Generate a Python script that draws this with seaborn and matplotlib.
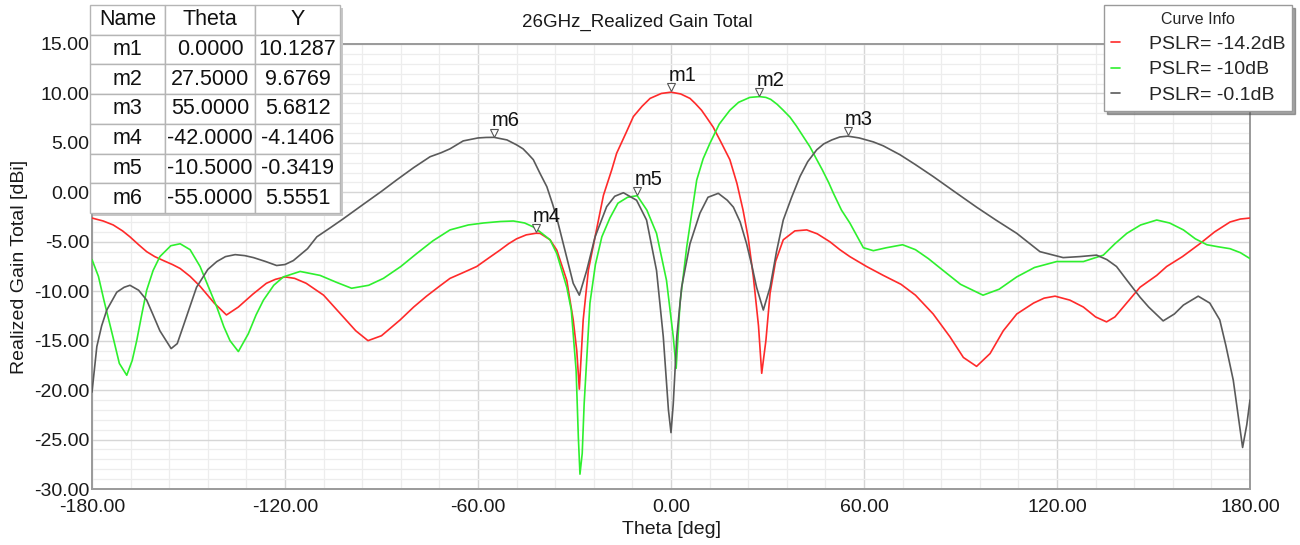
import numpy as np
import pandas as pd
import matplotlib
matplotlib.use("Agg")
import matplotlib.pyplot as plt
import matplotlib.transforms as mtrans
from matplotlib.lines import Line2D
import seaborn as sns

# ---------------- data ----------------
series_names = ["PSLR= -14.2dB", "PSLR= -10dB", "PSLR= -0.1dB"]

red_theta = [-180, -176.5, -173.4, -170.5, -168.2, -165.5, -163, -160.5, -157.8, -155, -152.6, -149.5, -146.4,
             -142, -138.2, -134.5, -130, -125.8, -123, -120, -117, -113.4, -108, -103, -98, -94.2, -90,
             -84.2, -80, -76, -72, -68.7, -64.5, -60.4, -56.5, -53.2, -50.5, -48.0, -45, -42.0,
             -40.7, -37.6, -35.5, -32.4, -30.4, -29.3, -28.5, -27.3, -25.7, -23.6, -21.0, -18.4, -16.9,
             -14, -11.7, -9, -6.5, -3, 0, 3, 5.9, 7.5, 9.5, 11, 13.1, 15.5, 18.3, 20.5, 22.4, 24, 25.6, 27.2,
             28.2, 29.5, 30.8, 32.5, 34.9, 38.5, 42.2, 45.5, 49.4, 52.5, 55.6, 60.8, 66, 71.5, 76, 81.5,
             86.7, 90.9, 95.0, 99.2, 103.3, 107.5, 112.7, 116, 119.4, 124, 128.2, 132, 135.4, 138, 140.6,
             145.8, 151, 154.1, 159, 164.4, 169, 173.8, 177, 180]
red_gain = [-2.6, -2.9, -3.3, -3.9, -4.5, -5.3, -6.0, -6.5, -6.9, -7.3, -7.7, -8.5, -9.5,
            -11.2, -12.4, -11.6, -10.3, -9.2, -8.8, -8.55, -8.7, -9.2, -10.4, -12.2, -14.0, -15.0, -14.5,
            -12.9, -11.6, -10.5, -9.5, -8.7, -8.1, -7.5, -6.6, -5.85, -5.2, -4.7, -4.3, -4.14,
            -4.15, -4.8, -5.85, -8.9, -12.9, -16.0, -19.9, -12.9, -7.9, -4.5, -0.3, 2.3, 3.95,
            6.0, 7.66, 8.7, 9.5, 10.0, 10.13, 9.95, 9.5, 9.0, 8.3, 7.6, 6.6, 5.1, 3.3, 0.9, -1.8, -4.6, -8.55, -13.5,
            -18.3, -15.0, -10.2, -7.0, -4.8, -3.9, -3.8, -4.2, -5.0, -5.8, -6.5, -7.5, -8.4, -9.3, -10.4, -12.3,
            -14.6, -16.7, -17.6, -16.3, -14.0, -12.3, -11.2, -10.7, -10.5, -10.9, -11.6, -12.6, -13.1, -12.6, -11.6,
            -9.6, -8.4, -7.5, -6.5, -5.2, -4.0, -3.0, -2.7, -2.6]

green_theta = [-180, -178, -176.3, -173.2, -171.5, -169.2, -167.5, -166.1, -164.5, -163, -161, -158.9, -155.5,
               -152.6, -149.5, -146.4, -144, -141.2, -139, -137.1, -134.5, -131.4, -129, -126.7, -123.5,
               -120.5, -115.3, -109.1, -104, -99.3, -94, -89.4, -84, -79.1, -74, -68.7, -63, -58.3, -53,
               -49.0, -45.5, -42.8, -40.7, -37.6, -35.5, -32.4, -31.0, -29.5, -28.8, -28.3, -27.6, -27.0,
               -25.2, -23.5, -21.5, -19, -16.5, -13.5, -10.5, -7.5, -4.5, -1.4, 0.7, 1.6, 2.8, 4.9, 8.0,
               10, 12.1, 15, 18.3, 21, 24.5, 27.5, 29.5, 31, 33, 34.9, 37, 39, 41, 43.2, 45, 47, 49, 50.5,
               53, 55.6, 59.8, 62.9, 67, 72.0, 76, 80, 84.6, 90, 97.0, 102, 107.5, 113, 119.9, 128.2,
               134.4, 138, 141.7, 146, 151.0, 155, 159.3, 163, 166.6, 170, 173.8, 177, 180]
green_gain = [-6.8, -8.5, -10.9, -15.0, -17.3, -18.5, -17.0, -15.0, -12.3, -9.9, -7.9, -6.5, -5.4,
              -5.2, -5.8, -7.5, -9.4, -11.6, -13.6, -15.0, -16.1, -14.3, -12.4, -10.9, -9.4,
              -8.55, -8.0, -8.4, -9.1, -9.7, -9.4, -8.7, -7.5, -6.2, -4.9, -3.8, -3.3, -3.1, -2.95,
              -2.9, -3.1, -3.5, -4.0, -4.8, -6.2, -9.6, -11.9, -18.0, -24.8, -28.5, -26.4, -21.4,
              -11.2, -7.3, -4.5, -2.6, -1.1, -0.5, -0.34, -1.8, -4.15, -8.9, -14.6, -17.8, -11.2, -5.5, 1.25,
              3.4, 4.96, 6.9, 8.3, 9.1, 9.6, 9.68, 9.6, 9.4, 8.9, 8.3, 7.6, 6.7, 5.7, 4.6, 3.5, 2.3, 1.0, -0.1,
              -1.8, -3.1, -5.6, -5.9, -5.6, -5.3, -5.8, -6.7, -7.9, -9.3, -10.4, -9.8, -8.55, -7.6, -7.0, -7.0,
              -6.35, -5.2, -4.15, -3.3, -2.8, -3.1, -3.8, -4.7, -5.3, -5.5, -5.7, -6.1, -6.7]

gray_theta = [-180, -178.5, -177, -175.4, -172.3, -170, -168.2, -165.5, -163, -161, -158.9, -155.4, -153.5,
              -151.7, -149.5, -147.5, -144, -141.2, -138.5, -135.5, -132.5, -129.8, -126, -122.6, -120,
              -117.4, -113, -110.1, -106, -102, -95.6, -90, -85.3, -80, -74.9, -71.5, -68.7, -64.6, -60,
              -57.5, -55, -51, -48.0, -46, -44.5, -42.8, -40.7, -38.6, -36.8, -35.5, -32.4, -30.4, -28.5,
              -26.2, -23.6, -20, -17.5, -14.8, -10.7, -7.6, -4.5, -2.4, -0.8, 0, 0.7, 1.8, 3.3, 5.9, 9.0,
              11.5, 14.7, 17.5, 19.4, 21.5, 23.5, 25.2, 26.6, 28.7, 30.8, 32.8, 34.9, 37.5, 40.1, 42.5, 45.3,
              47.5, 50, 52.5, 55, 58.5, 62.9, 66, 71.2, 76, 81.5, 88, 95.0, 101, 107.5, 114.7, 121.9, 127,
              132.3, 135.5, 138.5, 142, 145.8, 148.5, 153.0, 156.5, 159.3, 163.9, 167.5, 170.6, 172.5,
              174.8, 177.7, 179, 180]
gray_gain = [-20.2, -15.6, -13.5, -11.9, -10.1, -9.6, -9.4, -9.9, -10.9, -12.4, -14.0, -15.8, -15.3,
             -13.6, -11.5, -9.6, -7.8, -7.0, -6.5, -6.3, -6.4, -6.6, -7.0, -7.4, -7.3,
             -6.9, -5.7, -4.5, -3.6, -2.7, -1.2, 0.1, 1.25, 2.5, 3.6, 4.0, 4.4, 5.2, 5.5,
             5.55, 5.56, 5.3, 4.8, 4.4, 3.9, 3.3, 1.9, 0.57, -1.2, -2.6, -6.6, -9.2, -10.4,
             -7.9, -4.5, -1.45, -0.4, -0.04, -0.8, -2.8, -7.9, -14.6, -22.0, -24.3, -21.4, -14.6, -9.6, -5.2, -2.1,
             -0.5, -0.1, -0.8, -1.5, -3.0, -5.2, -7.5, -9.6, -11.9, -9.6, -6.0, -2.8, -0.5, 1.6, 3.1, 4.3,
             4.9, 5.3, 5.6, 5.68, 5.5, 5.1, 4.7, 3.8, 2.8, 1.6, 0.1, -1.5, -2.8, -4.15, -6.0, -6.6, -6.5,
             -6.35, -6.8, -7.5, -9.0, -10.6, -11.6, -13.0, -12.3, -11.4, -10.5, -11.2, -12.9, -15.5,
             -19.0, -25.8, -23.5, -21.0]

marker_names = ["m1", "m2", "m3", "m4", "m5", "m6"]
marker_theta = [0.0, 27.5, 55.0, -42.0, -10.5, -55.0]
marker_y = [10.1287, 9.6769, 5.6812, -4.1406, -0.3419, 5.5551]

table_cols = ["Name", "Theta", "Y"]
x_ticks = [-180, -120, -60, 0, 60, 120, 180]
y_ticks = [-30, -25, -20, -15, -10, -5, 0, 5, 10, 15]

colors = ["#ff2a2a", "#2ef02e", "#5a5a5a"]

# ---------------- build frame ----------------
df = pd.concat([
    pd.DataFrame({"Theta": red_theta, "Gain": red_gain, "Curve": series_names[0]}),
    pd.DataFrame({"Theta": green_theta, "Gain": green_gain, "Curve": series_names[1]}),
    pd.DataFrame({"Theta": gray_theta, "Gain": gray_gain, "Curve": series_names[2]}),
], ignore_index=True)

sns.set_theme(style="white")
plt.rcParams["font.family"] = ["Liberation Sans", "DejaVu Sans"]

fig = plt.figure(figsize=(13, 5.45), dpi=100)
L, R, T, B = 92, 1250, 44, 489
ax = fig.add_axes([L / 1300, 1 - B / 545, (R - L) / 1300, (B - T) / 545])

sns.lineplot(data=df, x="Theta", y="Gain", hue="Curve", palette=colors, hue_order=series_names,
             estimator=None, sort=True, linewidth=1.2, ax=ax, legend=False, zorder=3)

ax.set_xlim(-180, 180)
ax.set_ylim(-30, 15)
ax.set_xticks(x_ticks)
ax.set_xticklabels([f"{v:.2f}" for v in x_ticks])
ax.set_yticks(y_ticks)
ax.set_yticklabels([f"{v:.2f}" for v in y_ticks])
ax.set_xticks(np.arange(-180, 181, 12), minor=True)
ax.set_yticks(np.arange(-30, 16, 1), minor=True)
ax.grid(which="major", color="#d6d6d6", linewidth=1.0, zorder=0)
ax.grid(which="minor", color="#ededed", linewidth=0.9, zorder=0)
ax.set_axisbelow(True)
ax.tick_params(which="major", direction="in", length=6, width=1, color="#8a8a8a",
               labelsize=14, labelcolor="#1a1a1a", pad=2)
ax.tick_params(which="minor", direction="in", length=3, width=0.8, color="#8a8a8a")
ax.tick_params(axis="x", pad=7)
for s in ax.spines.values():
    s.set_color("#9a9a9a")
    s.set_linewidth(1.4)

ax.set_xlabel("Theta [deg]", fontsize=14, color="#1a1a1a", labelpad=4)
ax.set_ylabel("Realized Gain Total [dBi]", fontsize=14, color="#1a1a1a", labelpad=4)
fig.text(637 / 1300, 1 - 22 / 545, "26GHz_Realized Gain Total", fontsize=13.5,
         ha="center", va="center", color="#1a1a1a")

# markers
tri_tr = mtrans.offset_copy(ax.transData, fig=fig, x=0, y=3.5, units="points")
for name, xv, yv in zip(marker_names, marker_theta, marker_y):
    ax.plot([xv], [yv], marker="v", markersize=5.5, markerfacecolor="white",
            markeredgecolor="#555555", markeredgewidth=0.8, linestyle="none",
            transform=tri_tr, zorder=5)
    ax.annotate(name, (xv, yv), xytext=(-2, 5), textcoords="offset points",
                fontsize=14.5, ha="left", va="bottom", color="#111111", zorder=6)

# table
rows = [[n, f"{t:.4f}", f"{y:.4f}"] for n, t, y in zip(marker_names, marker_theta, marker_y)]
W, H = R - L, B - T
tx0, tx1, ty0, ty1 = 90, 340, 5, 213
bbox = [(tx0 - L) / W, (B - ty1) / H, (tx1 - tx0) / W, (ty1 - ty0) / H]
shadow = plt.Rectangle((bbox[0] + 3 / W, bbox[1] - 3 / H), bbox[2], bbox[3], transform=ax.transAxes,
                       facecolor="#c8c8c8", edgecolor="none", zorder=9, clip_on=False)
ax.add_patch(shadow)
tab = ax.table(cellText=rows, colLabels=table_cols, cellLoc="center", bbox=bbox,
               colWidths=[75, 90, 85], zorder=10)
tab.auto_set_font_size(False)
tab.set_fontsize(15.5)
for (r, c), cell in tab.get_celld().items():
    cell.set_edgecolor("#b5b5b5")
    cell.set_linewidth(1.0)
    cell.set_facecolor("white")
    cell.get_text().set_color("#111111")

# legend
handles = [Line2D([0], [0], color=c, linewidth=1.2) for c in colors]
leg = ax.legend(handles, series_names, title="Curve Info", loc="upper right",
                bbox_to_anchor=(1292 / 1300, 1 - 5 / 545), bbox_transform=fig.transFigure,
                fontsize=14, title_fontsize=11.5, handlelength=0.45, handletextpad=1.5,
                frameon=True, fancybox=False, shadow=True, borderpad=0.35, labelspacing=0.42,
                borderaxespad=0)
leg.get_frame().set_edgecolor("#9a9a9a")
leg.get_frame().set_linewidth(1.0)
leg.set_zorder(10)

fig.savefig("out.png", dpi=100)
